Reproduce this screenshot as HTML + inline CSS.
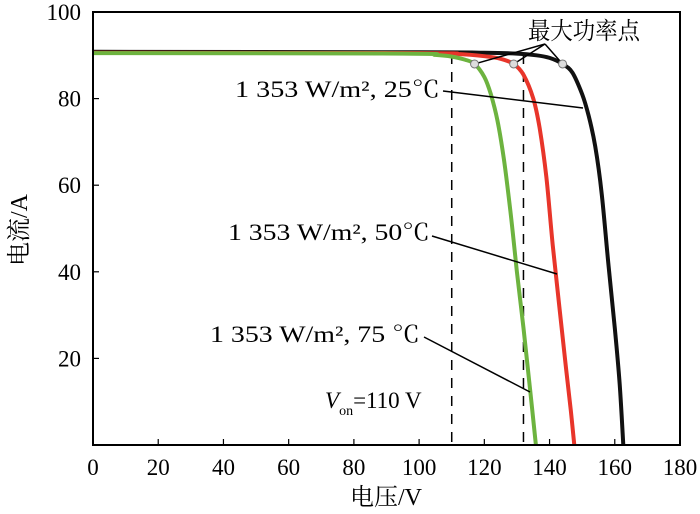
<!DOCTYPE html>
<html><head><meta charset="utf-8"><style>
body{margin:0;background:#fff}
svg{display:block;font-family:"Liberation Serif","Noto Serif CJK SC",serif}
</style></head><body>
<svg width="700" height="514" id="c">
<rect x="0" y="0" width="700" height="514" fill="#fff"/>
</svg>
<script>
const xTicks=[0,20,40,60,80,100,120,140,160,180];
const yTicks=[20,40,60,80,100];
const blackV=[0,100,120,130,136,140,144,147,150,152,154,156,158,160,161.5,162.6];
const blackI=[90.8,90.7,90.6,90.4,90,89.4,88,86,81,76,69,58,42,27,14,0];
const redV=[0,100,112,120,125,129,132,135,137,139,141,143,145,146.5,147.6];
const redI=[90.6,90.5,90.3,89.8,89.2,88,85.5,80,73,62,46,32,18,8,0];
const greenV=[0,95,105,110,114,117,120,122,124,126,128,130,132,134,135.8];
const greenI=[90.5,90.4,90.1,89.7,89,88,85,81,75,66,54,40,27,13,0];
const mppV=[117,129,144];const mppI=[88,88,88];
const dashV=[110,132];
const L=93,R=680,T=12,B=445;
const sx=v=>L+(v-0)/180*(R-L), sy=i=>B-i/100*(B-T);
const svg=document.getElementById('c');const NS='http://www.w3.org/2000/svg';
function mk(t,a,p){const e=document.createElementNS(NS,t);for(const k in a)e.setAttribute(k,a[k]);(p||svg).appendChild(e);return e;}
function tx(x,y,s,anchor,size){const e=mk('text',{x:x,y:y,'text-anchor':anchor||'start','font-size':size||23});e.textContent=s;return e;}
xTicks.forEach(v=>{const e=mk('line',{x1:sx(v),x2:sx(v),y1:B,y2:B-6,stroke:'#000','stroke-width':1.2});


const t=tx(sx(v),B+30,String(v),'middle');

});
yTicks.forEach(v=>{const e=mk('line',{x1:L,x2:L+6,y1:sy(v),y2:sy(v),stroke:'#000','stroke-width':1.2});


const t=tx(L-12,sy(v)+8,String(v),'end');

});
dashV.forEach(v=>{const e=mk('line',{x1:sx(v),x2:sx(v),y1:sy(90.3),y2:B,stroke:'#000','stroke-width':1.5,'stroke-dasharray':'10,8'});

});
function curve(V,I,col,w,name){const P=V.map((v,k)=>[sx(v),sy(I[k])]);
let d='M'+P[0][0].toFixed(1)+','+P[0][1].toFixed(1);
for(let k=0;k<P.length-1;k++){const p0=P[Math.max(0,k-1)],p1=P[k],p2=P[k+1],p3=P[Math.min(P.length-1,k+2)];
const c1=[p1[0]+(p2[0]-p0[0])/6,p1[1]+(p2[1]-p0[1])/6],c2=[p2[0]-(p3[0]-p1[0])/6,p2[1]-(p3[1]-p1[1])/6];
d+='C'+c1.map(n=>n.toFixed(1))+' '+c2.map(n=>n.toFixed(1))+' '+p2.map(n=>n.toFixed(1));}
const e=mk('path',{d:d,fill:'none',stroke:col,'stroke-width':w,'stroke-linejoin':'round'});

}
curve(blackV,blackI,'#111',4,'curve-25c');
curve(redV,redI,'#e8352a',4,'curve-50c');
curve(greenV,greenI,'#6db33f',4,'curve-75c');
const f=mk('rect',{x:L,y:T,width:R-L,height:B-T,fill:'none',stroke:'#000','stroke-width':2});


mppV.forEach((v,k)=>{const l=mk('line',{x1:545,y1:44,x2:sx(v),y2:sy(mppI[k]),stroke:'#000','stroke-width':1.5});


const c=mk('circle',{cx:sx(v),cy:sy(mppI[k]),r:4,fill:'#ddd',stroke:'#777','stroke-width':1});

});
</script>
<svg width="700" height="514" style="position:absolute;left:0;top:0;font-family:'Liberation Serif','Noto Serif CJK SC',serif">
<text x="528" y="39" font-size="24" textLength="112" lengthAdjust="spacingAndGlyphs">最大功率点</text>
<text x="235" y="97" font-size="23" textLength="205" lengthAdjust="spacingAndGlyphs">1 353 W/m², 25℃</text>
<line x1="443" y1="91" x2="583" y2="108" stroke="#000" stroke-width="1.5"/>
<text x="228" y="240" font-size="23" textLength="202" lengthAdjust="spacingAndGlyphs">1 353 W/m², 50℃</text>
<line x1="432" y1="236" x2="557" y2="274" stroke="#000" stroke-width="1.5"/>
<text x="210" y="342" font-size="23" textLength="210" lengthAdjust="spacingAndGlyphs">1 353 W/m², 75 ℃</text>
<line x1="424" y1="337" x2="530" y2="392" stroke="#000" stroke-width="1.5"/>
<text x="325" y="408" font-size="23"><tspan font-style="italic">V</tspan><tspan font-size="14" dy="7">on</tspan><tspan dy="-7">=110 V</tspan></text>
<text x="386" y="505" font-size="24" text-anchor="middle">电压/V</text>
<text x="0" y="0" font-size="24" text-anchor="middle" transform="translate(27,230) rotate(-90)">电流/A</text>
</svg>
</body></html>
